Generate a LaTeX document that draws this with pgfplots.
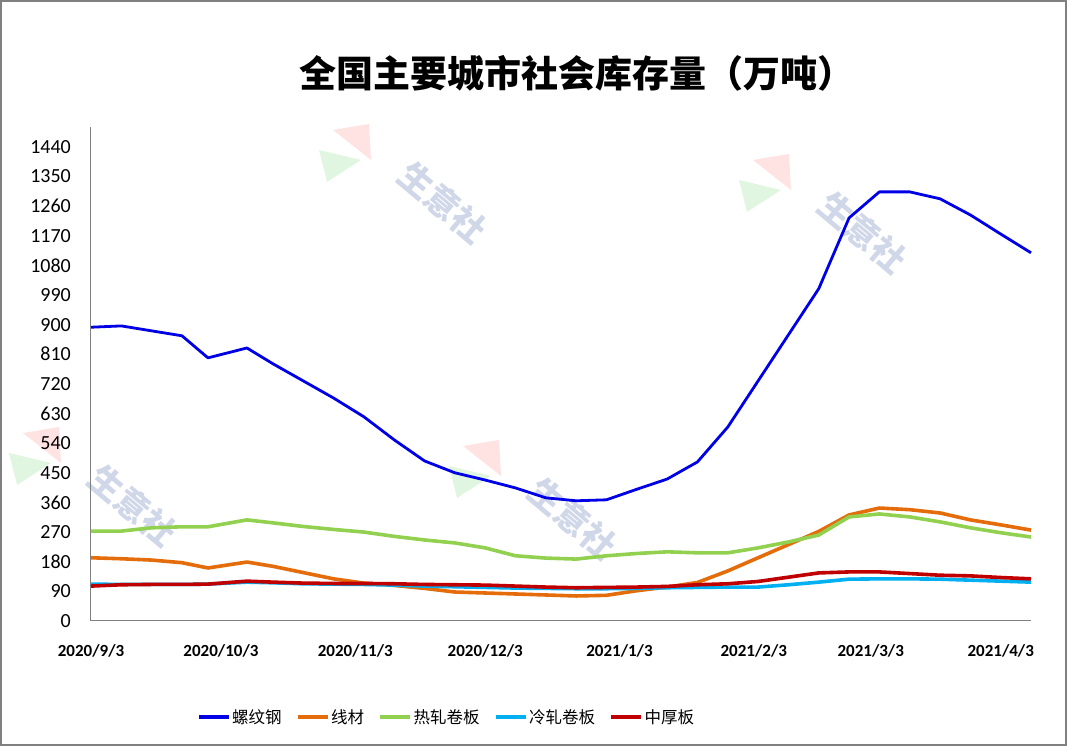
\documentclass[border=0pt]{standalone}
\usepackage{fontspec}
\setmainfont{Carlito}
\newfontfamily\cjk{Noto Sans CJK SC}
\usepackage{pgfplots}
\pgfplotsset{compat=1.18}
\usepackage{pgfplotstable}
\definecolor{cBlue}{RGB}{0,0,230}
\definecolor{cOrange}{RGB}{228,108,10}
\definecolor{cGreen}{RGB}{146,208,80}
\definecolor{cCyan}{RGB}{0,176,240}
\definecolor{cRed}{RGB}{192,0,0}
\definecolor{wmText}{RGB}{208,215,232}

\pgfplotstableread{
day lw xc rj lj zh
0 892 192 273 112 106
7 896 189 273 111 110
14 881 185 283 111 111
21 866 177 286 111 111
27 799 161 286 112 112
36 829 179 307 118 121
42 781 166 298 116 118
49 729 147 287 113 115
56 677 128 278 112 114
63 620 115 270 111 114
70 550 108 257 109 113
77 486 99 246 106 111
84 450 88 237 104 110
91 428 85 222 102 109
98 404 82 198 100 106
105 374 79 191 99 103
112 365 76 188 98 101
119 368 78 198 98 102
126 400 92 205 99 103
133 431 103 210 101 105
140 483 117 207 102 110
147 589 152 207 103 113
154 729 192 222 103 120
161 869 232 240 110 133
168 1009 272 261 118 146
175 1224 322 316 127 149
182 1303 343 325 128 149
189 1303 338 316 128 144
196 1282 328 301 127 139
203 1233 307 283 124 137
210 1175 292 268 121 132
217 1118 276 255 118 128
}\data

\newcommand{\wm}[2]{%
 \begin{scope}[shift={(#1,#2)}]
  \fill[red!70, opacity=0.16] (-12,22) -- (24,28) -- (26,-8) -- cycle;
  \fill[green!70!black, opacity=0.12] (-26,2) -- (16,-8) -- (-18,-30) -- cycle;
  \node[rotate=-40, text=wmText, font=\cjk\bfseries\fontsize{34}{34}\selectfont] at (98,-50) {生意社};
 \end{scope}}

\begin{document}
\begin{tikzpicture}[x=1pt,y=1pt]
\path (0,0) rectangle (1068,746);
\draw[gray, line width=1.5pt] (1,1) rectangle (1066,745);
\wm{345}{594}
\wm{765}{564}
\wm{35}{291}
\wm{475}{278}
\node[font=\cjk\bfseries\fontsize{37}{40}\selectfont] at (577,673) {全国主要城市社会库存量（万吨）};
\begin{axis}[
 at={(91pt,125pt)}, anchor=south west,
 scale only axis, width=940pt, height=494pt,
 xmin=0, xmax=217, ymin=0, ymax=1500,
 axis x line*=bottom, axis y line*=left,
 axis line style={draw=gray, line width=1pt, -},
 major tick length=0pt,
 ytick={0,90,...,1440},
 xtick={0,30,61,91,122,153,180,210},
 xticklabels={2020/9/3,2020/10/3,2020/11/3,2020/12/3,2021/1/3,2021/2/3,2021/3/3,2021/4/3},
 /pgf/number format/assume math mode=true,
 /pgf/number format/1000 sep={},
 yticklabel style={font=\fontsize{20}{24}\selectfont, inner sep=0pt, xshift=-20pt, anchor=east},
 xticklabel style={font=\bfseries\fontsize{17}{20}\selectfont, inner sep=0pt, anchor=center, yshift=-30pt},
 legend columns=5,
 legend style={at={(0.378,-0.194)}, anchor=center, draw=none, fill=none,
   font=\cjk\fontsize{16.5}{18}\selectfont, inner sep=0pt, nodes={inner sep=1.5pt},
   /tikz/every even column/.append style={column sep=13pt}},
 legend image code/.code={\draw[#1, line width=3.5pt] (0pt,0pt) -- (30pt,0pt);},
 every axis plot/.append style={line join=round, mark=none},
 clip=false,
]
\addplot[cBlue, line width=2.8pt] table[x=day, y=lw] {\data};
\addlegendentry{螺纹钢}
\addplot[cOrange, line width=3.6pt] table[x=day, y=xc] {\data};
\addlegendentry{线材}
\addplot[cGreen, line width=3.6pt] table[x=day, y=rj] {\data};
\addlegendentry{热轧卷板}
\addplot[cCyan, line width=3.6pt] table[x=day, y=lj] {\data};
\addlegendentry{冷轧卷板}
\addplot[cRed, line width=3.6pt] table[x=day, y=zh] {\data};
\addlegendentry{中厚板}
\end{axis}
\end{tikzpicture}
\end{document}
